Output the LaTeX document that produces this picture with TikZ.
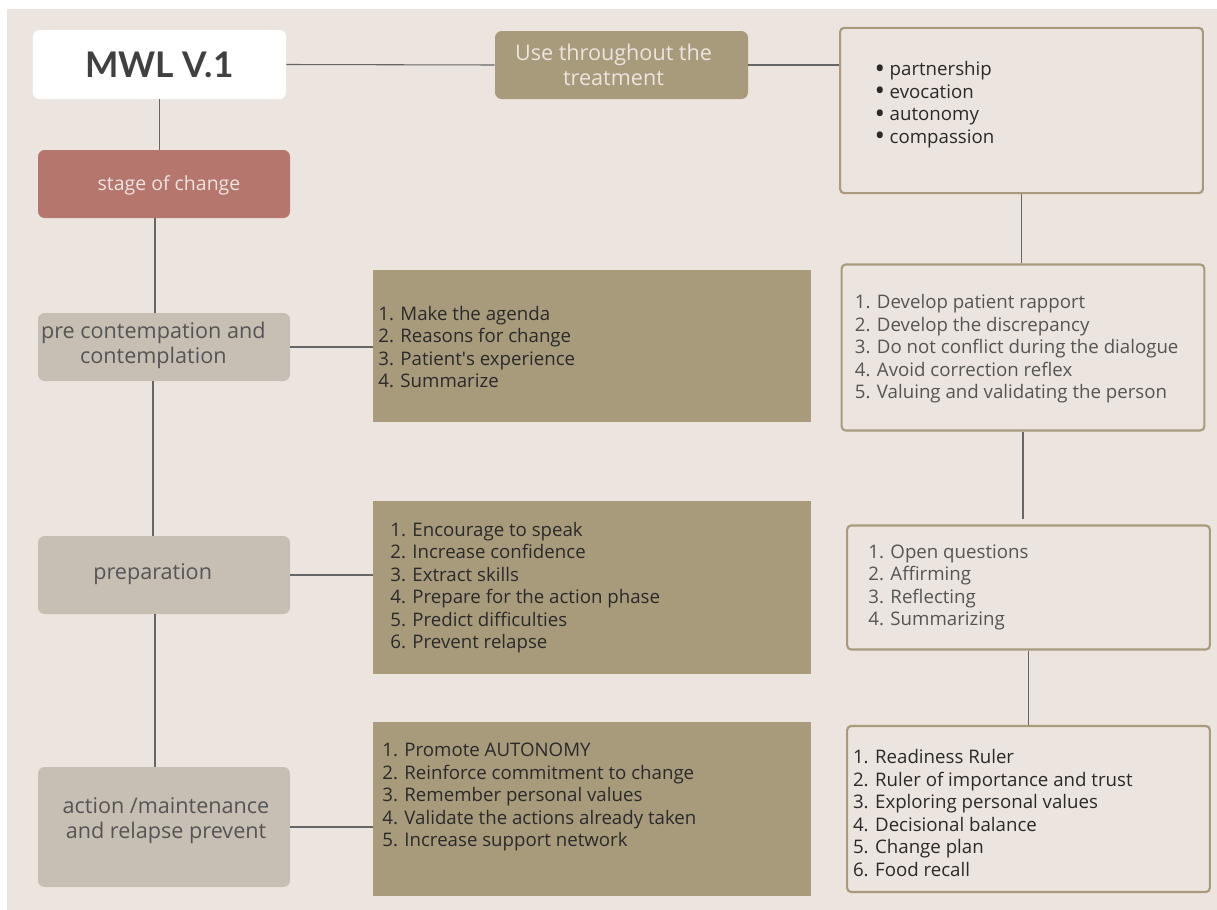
\documentclass[tikz,border=0pt]{standalone}
\usepackage{fontspec}
\usepackage{graphicx}
\setmainfont{Open Sans}
\newfontfamily\titlefont{Lato}
\usetikzlibrary{positioning}
\definecolor{paper}{HTML}{ECE4DE}
\definecolor{rose}{HTML}{B5776D}
\definecolor{stone}{HTML}{C7BEB4}
\definecolor{olive}{HTML}{A89B7C}
\definecolor{ink}{HTML}{2A2A2A}
\definecolor{greyink}{HTML}{555555}
\newcommand{\dotitem}{\makebox[11.25pt][l]{\smash{\raisebox{-0.14em}{\scalebox{1.5}{\textbullet}}}}}
\tikzset{
  stagebox/.style={rectangle,rounded corners=5pt,fill=stone,minimum width=189pt},
  stagetext/.style={align=center,inner sep=0pt,text=greyink,font=\fontsize{16.2}{18.75}\selectfont},
  olivebox/.style={rectangle,fill=olive,minimum width=328.5pt},
  linebox/.style={rectangle,rounded corners=3pt,draw=olive,line width=1.6pt,fill=paper,minimum width=272pt},
  listtext/.style={anchor=west,align=left,inner sep=0pt,font=\fontsize{14}{16.9}\selectfont},
  link/.style={draw=black!60,line width=0.8pt}
}
\begin{document}
\begin{tikzpicture}[x=0.75pt,y=-0.75pt]
\useasboundingbox (0,0) rectangle (1217,910);
\fill[white] (0,0) rectangle (1217,910);
\fill[paper] (7,9) rectangle (1217,910);

% left column
\node[rectangle,rounded corners=5pt,fill=white,text=black!75,minimum width=190pt,minimum height=51.75pt,
  font=\titlefont\fontsize{26.5}{32}\selectfont\bfseries] (mwl) at (159.5,64.5) {MWL V.1};
\node[rectangle,rounded corners=5pt,fill=rose,minimum width=189pt,minimum height=51pt] (soc) at (164,184) {};
\node[text=paper,inner sep=0pt,font=\fontsize{14.6}{16}\selectfont] (soctxt) at ([xshift=3.75pt,yshift=-0.75pt]soc.center) {stage of change};
\node[stagebox,minimum height=51pt] (precon) at (164,347) {};
\node[stagetext] (precontxt) at ([xshift=-8pt,yshift=1.5pt]precon.center) {pre contempation and\\contemplation};
\node[stagebox,minimum height=58.5pt] (prep) at (164,575) {};
\node[stagetext] (preptxt) at ([xshift=-8.5pt,yshift=1pt]prep.center) {preparation};
\node[stagebox,minimum height=90pt] (action) at (164,827) {};
\node[stagetext] (actiontxt) at ([xshift=1.5pt,yshift=4.5pt]action.center) {action /maintenance\\and relapse prevent};

% middle column
\node[rectangle,rounded corners=5pt,fill=olive,minimum width=189.75pt,minimum height=51pt] (use) at (621.5,65) {};
\node[stagetext,text=paper] (usetxt) at ([xshift=-6pt,yshift=0pt]use.center) {Use throughout the\\treatment};
\node[olivebox,minimum height=114pt] (ag) at (592,346) {};
\node[olivebox,minimum height=129.75pt] (pr) at (592,587.5) {};
\node[olivebox,minimum height=130.5pt] (am) at (592,809) {};
\node[listtext,text=ink] (agtxt) at ([xshift=4pt,yshift=-0.75pt]ag.west)
  {1. Make the agenda\\2. Reasons for change\\3. Patient\textquotesingle s experience\\4. Summarize};
\node[listtext,text=ink] (prtxt) at ([xshift=13pt,yshift=0pt]pr.west)
  {1. Encourage to speak\\2. Increase confidence\\3. Extract skills\\4. Prepare for the action phase\\5. Predict difficulties\\6. Prevent relapse};
\node[listtext,text=ink] (amtxt) at ([xshift=7pt,yshift=9pt]am.west)
  {1. Promote AUTONOMY\\2. Reinforce commitment to change\\3. Remember personal values\\4. Validate the actions already taken\\5. Increase support network};

% right column
\node[linebox,minimum height=124pt] (spirit) at (1021.5,110.5) {};
\node[listtext,text=ink] (spirittxt) at ([xshift=26.5pt,yshift=4.5pt]spirit.west)
  {\dotitem partnership\\\dotitem evocation\\\dotitem autonomy\\\dotitem compassion};
\node[linebox,minimum height=124.5pt] (princ) at (1023,347.5) {};
\node[listtext,text=greyink] (princtxt) at ([xshift=10.5pt,yshift=-1pt]princ.west)
  {1. Develop patient rapport\\2. Develop the discrepancy\\3. Do not conflict during the dialogue\\4. Avoid correction reflex\\5. Valuing and validating the person};
\node[linebox,minimum height=93pt] (oars) at (1028.5,587.5) {};
\node[listtext,text=greyink] (oarstxt) at ([xshift=16.5pt,yshift=0pt]oars.west)
  {1. Open questions\\2. Affirming\\3. Reflecting\\4. Summarizing};
\node[linebox,minimum height=124.5pt] (tools) at (1028.5,809) {};
\node[listtext,text=ink] (toolstxt) at ([xshift=5pt,yshift=-3pt]tools.west)
  {1. Readiness Ruler\\2. Ruler of importance and trust\\3. Exploring personal values\\4. Decisional balance\\5. Change plan\\6. Food recall};

% connectors
\draw[link] (mwl.east) -- (use.west);
\draw[link] (use.east) -- (use.east -| spirit.west);
\draw[link] (mwl.south) -- (mwl.south |- soc.north);
\draw[link] ([xshift=-6.75pt]soc.south) -- ([xshift=-6.75pt]soc.south |- precon.north);
\draw[link] ([xshift=-8.25pt]precon.south) -- ([xshift=-8.25pt]precon.south |- prep.north);
\draw[link] ([xshift=-6.75pt]prep.south) -- ([xshift=-6.75pt]prep.south |- action.north);
\draw[link] (precon.east) -- (precon.east -| ag.west);
\draw[link] (prep.east) -- (prep.east -| pr.west);
\draw[link] (action.east) -- (action.east -| am.west);
\draw[link] (spirit.south) -- (spirit.south |- princ.north);
\draw[link] (princ.south) -- ([yshift=4pt]princ.south |- oars.north);
\draw[link] (oars.south) -- (oars.south |- tools.north);
\end{tikzpicture}
\end{document}
